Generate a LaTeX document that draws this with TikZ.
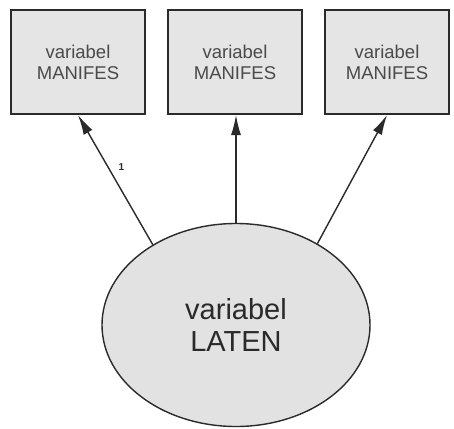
\documentclass[tikz,border=0pt]{standalone}
\usepackage{fontspec}
\setmainfont{Liberation Sans}
\usetikzlibrary{shapes.geometric,arrows.meta}
\definecolor{boxfill}{HTML}{E5E5E5}
\definecolor{ellfill}{HTML}{E2E2E2}
\definecolor{edge}{HTML}{2A2A2A}
\definecolor{boxtext}{HTML}{4A4A4A}
\definecolor{elltext}{HTML}{2A2A2A}
\begin{document}
\begin{tikzpicture}[x=1pt,y=-1pt,
  manifest/.style={draw=edge, line width=2pt, fill=boxfill,
    minimum height=104pt, inner sep=0pt, align=center, text=boxtext,
    font=\fontsize{18.5}{21}\selectfont},
  latent/.style={ellipse, draw=edge, line width=1.4pt, fill=ellfill,
    minimum width=268pt, minimum height=203pt, inner sep=0pt,
    align=center, text=elltext, font=\fontsize{29}{32}\selectfont},
  loading/.style={draw=edge, line width=1.4pt,
    -{Latex[length=20pt,width=10pt]}},
  weight/.style={font=\fontsize{10}{11}\selectfont\bfseries, text=edge, inner sep=0pt}
]
\useasboundingbox (0,0) rectangle (454,428);
\fill[white] (0,0) rectangle (454,428);

% observed indicators
\node[manifest, minimum width=134pt] (m1) at (78,62) {variabel\\MANIFES};
\node[manifest, minimum width=134pt] (m2) at (235,62) {variabel\\MANIFES};
\node[manifest, minimum width=124pt] (m3) at (387,62) {variabel\\MANIFES};

% latent construct
\node[latent] (lv) at (236,325) {variabel\\LATEN};

% factor loadings
\draw[loading] (lv.136) -- node[pos=0.6, right=10pt, weight] {1} (m1.south);
\draw[loading] (lv.north) -- (lv.north |- m2.south);
\draw[loading] (lv.45) -- (m3.south);
\end{tikzpicture}
\end{document}
